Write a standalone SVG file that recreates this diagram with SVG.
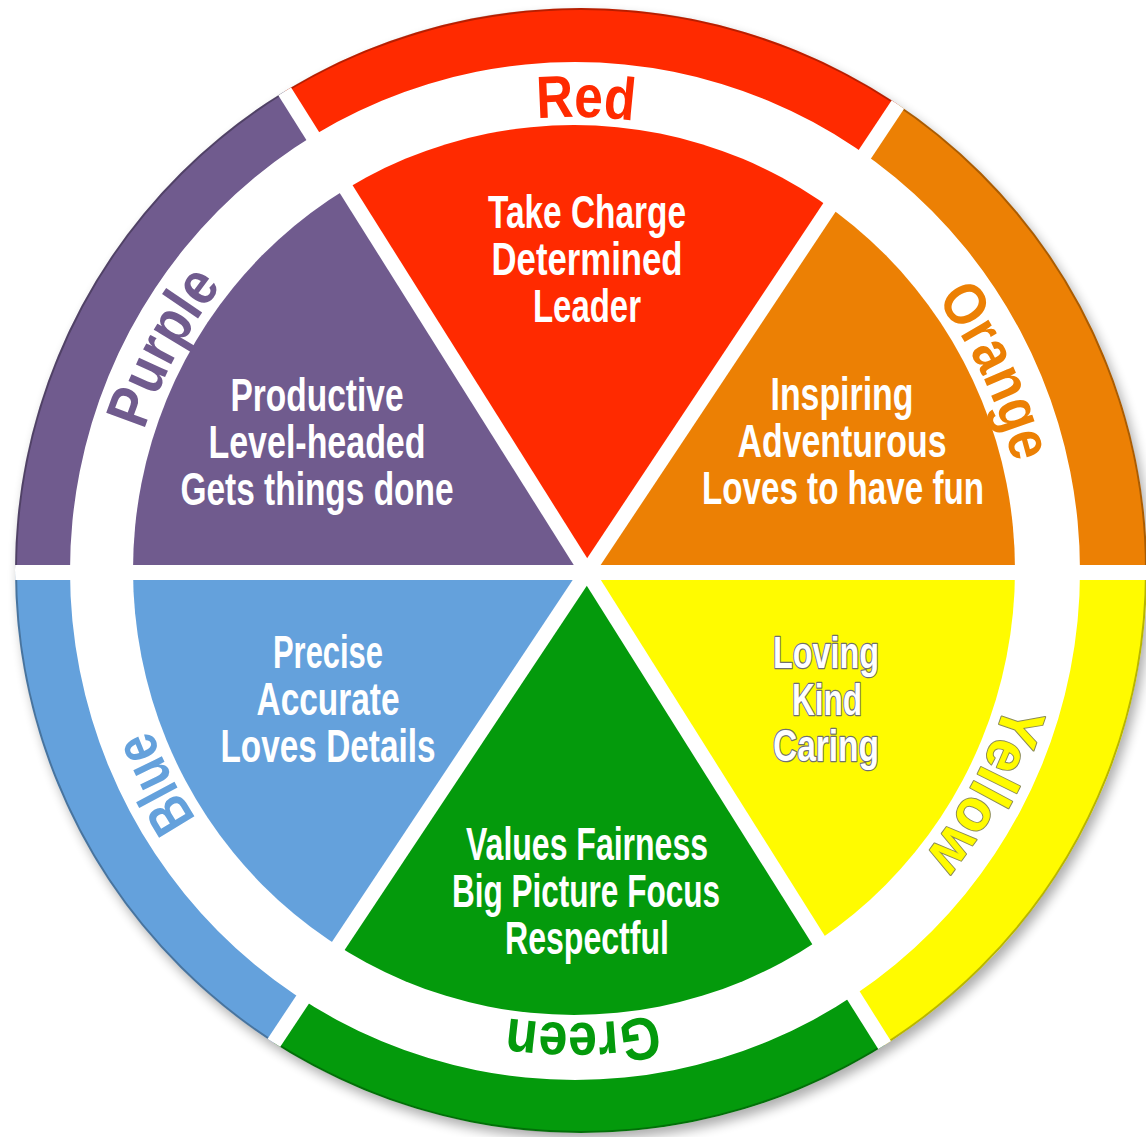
<svg xmlns="http://www.w3.org/2000/svg" width="1146" height="1137" viewBox="0 0 1146 1137">
  <defs>
    <filter id="soft" x="-10%" y="-10%" width="120%" height="120%">
      <feGaussianBlur stdDeviation="6"/>
    </filter>
    <!-- outer coloured band: outer rim minus ring inner edge -->
    <clipPath id="band">
      <path clip-rule="evenodd" d="M15,570.5 a566,562.5 0 1,0 1132,0 a566,562.5 0 1,0 -1132,0Z M70,571 a505,509 0 1,0 1010,0 a505,509 0 1,0 -1010,0Z"/>
    </clipPath>
    <!-- inner disc holding the six sectors -->
    <clipPath id="core">
      <path d="M133,570 a441,445 0 1,0 882,0 a441,445 0 1,0 -882,0Z"/>
    </clipPath>
    <clipPath id="disc">
      <path d="M15,570.5 a566,562.5 0 1,0 1132,0 a566,562.5 0 1,0 -1132,0Z"/>
    </clipPath>
    <!-- clockwise baseline for the ring labels -->
    <path id="track" d="M122,570 A452,453 0 1,1 1026,570 A452,453 0 1,1 122,570"/>
  </defs>
  <style>
    .lbl{font-family:"Liberation Sans",Arial,sans-serif;font-weight:700;font-size:60px;text-anchor:middle}
    .txt{font-family:"Liberation Sans",Arial,sans-serif;font-weight:700;font-size:46px;fill:#ffffff;text-anchor:middle}
    .outl{stroke:#707070;stroke-width:2.5px;paint-order:stroke;stroke-linejoin:round}
    .small{font-size:44px}
    .divider{stroke:#ffffff;stroke-width:15;fill:none}
  </style>

  <rect width="1146" height="1137" fill="#ffffff"/>

  <!-- soft cast shadow and white base disc -->
  <ellipse cx="585" cy="577" rx="566" ry="562.5" fill="#000" opacity="0.32" filter="url(#soft)"/>
  <ellipse cx="581" cy="570.5" rx="566" ry="562.5" fill="#ffffff"/>

  <g id="red">
    <polygon clip-path="url(#band)" points="587,572 54.5,-274.5 1141,-261" fill="#FF2A00"/>
    <polygon clip-path="url(#core)" points="587,572 54.5,-274.5 1141,-261" fill="#FF2A00"/>
  </g>
  <g id="orange">
    <polygon clip-path="url(#band)" points="587,572 1141,-261 1587,572" fill="#EC8004"/>
    <polygon clip-path="url(#core)" points="587,572 1141,-261 1587,572" fill="#EC8004"/>
  </g>
  <g id="yellow">
    <polygon clip-path="url(#band)" points="587,572 1587,572 1119.5,1418.5" fill="#FFFB00"/>
    <polygon clip-path="url(#core)" points="587,572 1587,572 1119.5,1418.5" fill="#FFFB00"/>
  </g>
  <g id="green">
    <polygon clip-path="url(#band)" points="587,572 1119.5,1418.5 33,1405" fill="#049A0C"/>
    <polygon clip-path="url(#core)" points="587,572 1119.5,1418.5 33,1405" fill="#049A0C"/>
  </g>
  <g id="blue">
    <polygon clip-path="url(#band)" points="587,572 33,1405 -413,572" fill="#64A1DC"/>
    <polygon clip-path="url(#core)" points="587,572 33,1405 -413,572" fill="#64A1DC"/>
  </g>
  <g id="purple">
    <polygon clip-path="url(#band)" points="587,572 -413,572 54.5,-274.5" fill="#705B8E"/>
    <polygon clip-path="url(#core)" points="587,572 -413,572 54.5,-274.5" fill="#705B8E"/>
  </g>

  <!-- darker rim on the outer edge -->
  <ellipse cx="581" cy="570.5" rx="565" ry="561.5" fill="none" stroke="#000" stroke-opacity="0.28" stroke-width="2"/>

  <!-- white gaps between the segments -->
  <g id="connectors" clip-path="url(#disc)">
    <line class="divider" x1="-50" y1="572.5" x2="1200" y2="572.5"/>
    <line class="divider" x1="161" y1="-105.2" x2="1013" y2="1249.2"/>
    <line class="divider" x1="143.8" y1="1238.4" x2="1030.2" y2="-94.4"/>
  </g>

  <!-- ring labels -->
  <g id="labels">
    <text class="lbl" fill="#FF2A00"><textPath href="#track" startOffset="25.4%" textLength="97" lengthAdjust="spacingAndGlyphs">Red</textPath></text>
    <text class="lbl" fill="#EC8004"><textPath href="#track" startOffset="43%" textLength="182" lengthAdjust="spacingAndGlyphs">Orange</textPath></text>
    <text class="lbl outl" fill="#FFFB00" style="stroke:#8a8a55;stroke-width:2px"><textPath href="#track" startOffset="57.8%" textLength="175" lengthAdjust="spacingAndGlyphs">Yellow</textPath></text>
    <text class="lbl" fill="#049A0C"><textPath href="#track" startOffset="74.7%" textLength="150" lengthAdjust="spacingAndGlyphs">Green</textPath></text>
    <text class="lbl" fill="#64A1DC"><textPath href="#track" startOffset="92.5%" textLength="100" lengthAdjust="spacingAndGlyphs">Blue</textPath></text>
    <text class="lbl" fill="#705B8E"><textPath href="#track" startOffset="7.9%" textLength="165" lengthAdjust="spacingAndGlyphs">Purple</textPath></text>
  </g>

  <!-- sector texts -->
  <g id="red-text">
    <text class="txt" x="587" y="228" textLength="198" lengthAdjust="spacingAndGlyphs">Take Charge</text>
    <text class="txt" x="587" y="275" textLength="191" lengthAdjust="spacingAndGlyphs">Determined</text>
    <text class="txt" x="587" y="322" textLength="108" lengthAdjust="spacingAndGlyphs">Leader</text>
  </g>
  <g id="orange-text">
    <text class="txt" x="842" y="410" textLength="143" lengthAdjust="spacingAndGlyphs">Inspiring</text>
    <text class="txt" x="842" y="457" textLength="209" lengthAdjust="spacingAndGlyphs">Adventurous</text>
    <text class="txt" x="843" y="504" textLength="282" lengthAdjust="spacingAndGlyphs">Loves to have fun</text>
  </g>
  <g id="purple-text">
    <text class="txt" x="317" y="411" textLength="173" lengthAdjust="spacingAndGlyphs">Productive</text>
    <text class="txt" x="317" y="458" textLength="217" lengthAdjust="spacingAndGlyphs">Level-headed</text>
    <text class="txt" x="317" y="505" textLength="273" lengthAdjust="spacingAndGlyphs">Gets things done</text>
  </g>
  <g id="blue-text">
    <text class="txt" x="328" y="668" textLength="110" lengthAdjust="spacingAndGlyphs">Precise</text>
    <text class="txt" x="328" y="715" textLength="143" lengthAdjust="spacingAndGlyphs">Accurate</text>
    <text class="txt" x="328" y="762" textLength="215" lengthAdjust="spacingAndGlyphs">Loves Details</text>
  </g>
  <g id="yellow-text">
    <text class="txt outl small" x="826" y="668" textLength="106" lengthAdjust="spacingAndGlyphs">Loving</text>
    <text class="txt outl small" x="827" y="715" textLength="70" lengthAdjust="spacingAndGlyphs">Kind</text>
    <text class="txt outl small" x="826" y="761" textLength="106" lengthAdjust="spacingAndGlyphs">Caring</text>
  </g>
  <g id="green-text">
    <text class="txt" x="587" y="860" textLength="242" lengthAdjust="spacingAndGlyphs">Values Fairness</text>
    <text class="txt" x="586" y="907" textLength="268" lengthAdjust="spacingAndGlyphs">Big Picture Focus</text>
    <text class="txt" x="587" y="954" textLength="164" lengthAdjust="spacingAndGlyphs">Respectful</text>
  </g>
</svg>
